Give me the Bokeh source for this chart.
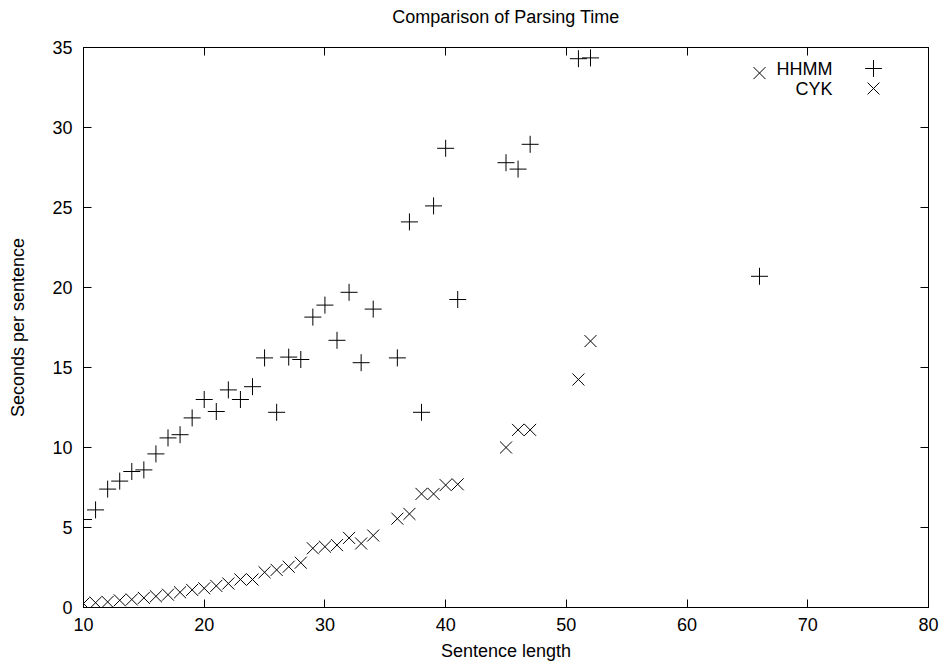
from bokeh.plotting import figure
from bokeh.models import LinearAxis, FixedTicker, Legend, LegendItem, Label, Range1d
from bokeh.embed import file_html
from bokeh.resources import INLINE

# Data
hhmm_len = [10, 11, 12, 13, 14, 15, 16, 17, 18, 19, 20, 21, 22, 23, 24, 25, 26, 27, 28, 29,
            30, 31, 32, 33, 34, 36, 37, 38, 39, 40, 41, 45, 46, 47, 51, 52, 66]
hhmm_sec = [5.5, 6.1, 7.4, 7.9, 8.5, 8.6, 9.6, 10.6, 10.8, 11.85, 13.0, 12.25, 13.6, 13.0, 13.8,
            15.6, 12.2, 15.65, 15.5, 18.15, 18.9, 16.7, 19.7, 15.3, 18.65, 15.6, 24.1, 12.2,
            25.1, 28.7, 19.25, 27.8, 27.4, 28.95, 34.3, 34.35, 20.7]
cyk_len = [10, 11, 12, 13, 14, 15, 16, 17, 18, 19, 20, 21, 22, 23, 24, 25, 26, 27, 28, 29,
           30, 31, 32, 33, 34, 36, 37, 38, 39, 40, 41, 45, 46, 47, 51, 52, 66]
cyk_sec = [0.25, 0.3, 0.35, 0.45, 0.5, 0.6, 0.7, 0.8, 0.95, 1.1, 1.2, 1.35, 1.5, 1.75, 1.75,
           2.2, 2.35, 2.55, 2.8, 3.7, 3.8, 3.9, 4.35, 4.0, 4.5, 5.55, 5.85, 7.1, 7.1, 7.65,
           7.7, 10.0, 11.1, 11.1, 14.25, 16.65, 33.4]
series_names = ["HHMM", "CYK"]
title_text = "Comparison of Parsing Time"
x_ticks = [10, 20, 30, 40, 50, 60, 70, 80]
y_ticks = [0, 5, 10, 15, 20, 25, 30, 35]

FONT = "Liberation Sans"
FS = "18px"

p = figure(frame_width=845, frame_height=560,
           x_range=Range1d(10, 80), y_range=Range1d(0, 35),
           output_backend="svg", toolbar_location=None,
           min_border_left=83, min_border_right=14, min_border_top=47, min_border_bottom=54,
           title=None)
p.grid.visible = False
p.outline_line_color = "black"
p.outline_line_width = 1
p.background_fill_color = "white"
p.border_fill_color = "white"


def style_axis(ax, ticks, labels=True):
    ax.ticker = FixedTicker(ticks=ticks)
    ax.major_tick_in = 8
    ax.major_tick_out = 0
    ax.minor_tick_line_color = None
    ax.axis_line_color = "black"
    ax.major_tick_line_color = "black"
    ax.major_label_text_font = FONT
    ax.axis_label_text_font = FONT
    ax.axis_label_text_font_size = FS
    ax.axis_label_text_font_style = "normal"
    ax.axis_label_text_color = "black"
    if labels:
        ax.major_label_text_font_size = FS
        ax.major_label_text_color = "black"
    else:
        ax.major_label_text_font_size = "0px"
        ax.major_label_text_color = None
        ax.major_label_standoff = 0


xa = p.xaxis[0]
ya = p.yaxis[0]
style_axis(xa, x_ticks)
style_axis(ya, y_ticks)
xa.major_label_standoff = 10
ya.major_label_standoff = 11
xa.axis_label = "Sentence length"
ya.axis_label = "Seconds per sentence"
xa.axis_label_standoff = 7
ya.axis_label_standoff = 21

# mirrored tick marks on the top and right edges (gnuplot border style);
# the chart title sits above the top border, centred over the plot area
top_axis = LinearAxis()
right_axis = LinearAxis()
style_axis(top_axis, x_ticks, labels=False)
style_axis(right_axis, y_ticks, labels=False)
top_axis.axis_label = title_text
top_axis.axis_label_standoff = 21
p.add_layout(top_axis, "above")
p.add_layout(right_axis, "right")

r1 = p.scatter(hhmm_len, hhmm_sec, marker="cross", size=17,
               line_color="black", line_width=1)
r2 = p.scatter(cyk_len, cyk_sec, marker="x", size=17,
               line_color="black", line_width=1)

# gnuplot-style key: text on the left, sample glyph on the right
for i, (name, rend) in enumerate(zip(series_names, [r1, r2])):
    leg = Legend(items=[LegendItem(label=" ", renderers=[rend])],
                 location=(769, 518 - 20 * i), glyph_width=42, glyph_height=42,
                 padding=0, margin=0, spacing=0, label_standoff=0,
                 label_text_font_size="1px",
                 background_fill_alpha=0, border_line_alpha=0)
    p.add_layout(leg)
    p.add_layout(Label(x=749, y=539 - 20 * i, x_units="screen", y_units="screen",
                       text=name, text_align="right", text_baseline="middle",
                       text_font=FONT, text_font_size=FS, text_color="black"))

open("out.html", "w").write(file_html(p, INLINE))
